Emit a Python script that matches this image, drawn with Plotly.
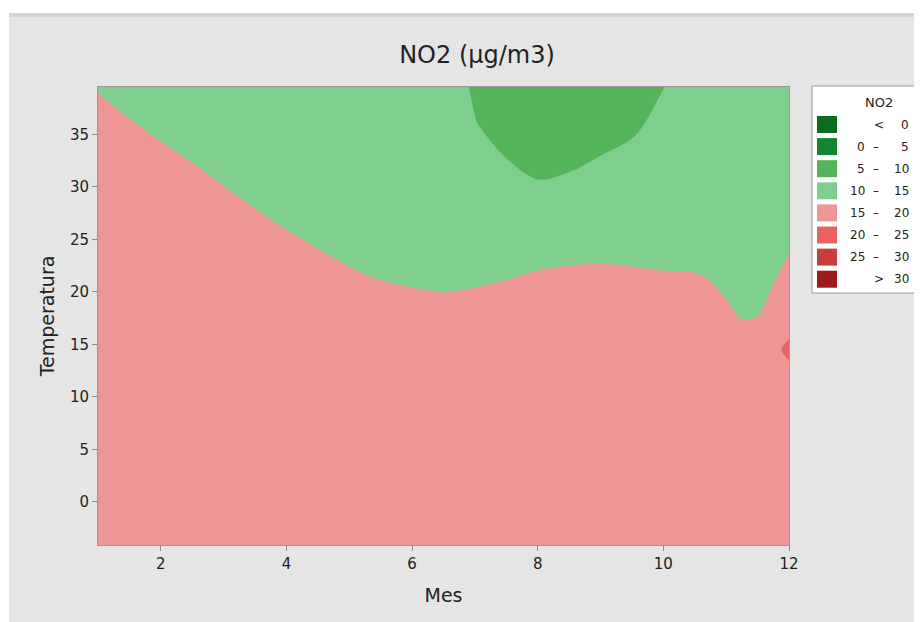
import plotly.graph_objects as go

# ---------------- data ----------------
MES = [1, 1.5, 2, 2.5, 3, 3.5, 4, 4.5, 5, 5.5, 6, 6.5, 7, 7.5, 8, 8.5, 9, 9.5, 10,
       10.5, 10.75, 11, 11.25, 11.5, 11.75, 12]
TEMPERATURA = [-4.5, 5, 12.5, 14.5, 16.5, 20, 25, 30, 33, 36, 39.5]

# NO2 values, one list per month column (bottom -> top along TEMPERATURA)
NO2_COLS = [
    [19.29, 18.39, 17.64, 17.44, 17.24, 16.89, 16.39, 15.89, 15.59, 15.29, 14.94],  # 1
    [19.05, 18.15, 17.40, 17.20, 17.00, 16.65, 16.15, 15.65, 15.35, 15.05, 14.70],  # 1.5
    [18.83, 17.93, 17.18, 16.98, 16.78, 16.43, 15.93, 15.43, 15.13, 14.83, 14.48],  # 2
    [18.63, 17.73, 16.98, 16.78, 16.58, 16.23, 15.73, 15.23, 14.93, 14.63, 14.28],  # 2.5
    [18.41, 17.51, 16.76, 16.56, 16.36, 16.01, 15.51, 15.01, 14.71, 14.41, 14.06],  # 3
    [18.19, 17.29, 16.54, 16.34, 16.14, 15.79, 15.29, 14.79, 14.49, 14.19, 13.84],  # 3.5
    [17.99, 17.09, 16.34, 16.14, 15.94, 15.59, 15.09, 14.59, 14.29, 13.99, 13.64],  # 4
    [17.81, 16.91, 16.16, 15.96, 15.76, 15.41, 14.91, 14.41, 14.11, 13.81, 13.46],  # 4.5
    [17.64, 16.74, 15.99, 15.79, 15.59, 15.24, 14.74, 14.24, 13.94, 13.64, 13.29],  # 5
    [17.51, 16.61, 15.86, 15.66, 15.46, 15.11, 14.61, 14.11, 13.81, 13.51, 13.16],  # 5.5
    [17.44, 16.54, 15.79, 15.59, 15.39, 15.04, 14.54, 14.04, 13.74, 13.44, 13.09],  # 6
    [17.39, 16.49, 15.74, 15.54, 15.34, 14.99, 14.49, 13.99, 13.69, 13.39, 13.04],  # 6.5
    [17.44, 16.54, 15.79, 15.59, 15.39, 15.04, 14.54, 12.65, 11.51, 10.20, 9.30],   # 7
    [17.51, 16.61, 15.86, 15.66, 15.46, 15.11, 14.61, 11.62, 9.82, 8.02, 5.93],     # 7.5
    [17.60, 16.70, 15.95, 15.75, 15.55, 15.20, 14.70, 10.58, 8.09, 6.50, 6.20],     # 8
    [17.65, 16.75, 16.00, 15.80, 15.60, 15.25, 14.75, 11.04, 8.81, 6.59, 6.20],     # 8.5
    [17.67, 16.77, 16.02, 15.82, 15.62, 15.27, 14.77, 11.79, 9.98, 8.18, 6.08],     # 9
    [17.64, 16.74, 15.99, 15.79, 15.59, 15.24, 14.74, 12.27, 10.79, 9.31, 7.58],    # 9.5
    [17.60, 16.70, 15.95, 15.75, 15.55, 15.20, 14.70, 13.05, 12.05, 11.06, 9.90],   # 10
    [17.58, 16.68, 15.93, 15.73, 15.53, 15.18, 14.68, 14.18, 13.88, 13.58, 13.23],  # 10.5
    [17.50, 16.60, 15.85, 15.65, 15.45, 15.10, 14.60, 14.10, 13.80, 13.50, 13.15],  # 10.75
    [17.33, 16.43, 15.68, 15.48, 15.28, 14.93, 14.43, 13.93, 13.63, 13.33, 12.98],  # 11
    [17.14, 16.24, 15.49, 15.29, 15.09, 14.74, 14.24, 13.74, 13.44, 13.14, 12.79],  # 11.25
    [17.17, 16.27, 15.52, 15.32, 15.12, 14.77, 14.27, 13.77, 13.47, 13.17, 12.82],  # 11.5
    [17.47, 16.57, 15.82, 15.62, 15.42, 15.07, 14.57, 14.07, 13.77, 13.47, 13.12],  # 11.75
    [17.77, 16.87, 16.12, 24.00, 15.72, 15.37, 14.87, 14.37, 14.07, 13.77, 13.42],  # 12
]

LEVEL_START, LEVEL_END, LEVEL_STEP = 0, 30, 5
BAND_COLORS = ["#0b6b1f", "#11862f", "#55b35a", "#80ce8e",
               "#ee9595", "#e86262", "#cb3d3d", "#9d1b1b"]
LEG_LO = ["", "0", "5", "10", "15", "20", "25", ""]
LEG_MID = ["<", "\u2013", "\u2013", "\u2013", "\u2013", "\u2013", "\u2013", ">"]
LEG_HI = ["0", "5", "10", "15", "20", "25", "30", "30"]

X_TICKS = [2, 4, 6, 8, 10, 12]
Y_TICKS = [0, 5, 10, 15, 20, 25, 30, 35]

# ---------------- figure ----------------
FONT = "DejaVu Sans"
OFF = 8                      # page body margin of the html page
PAGE_W, PAGE_H = 922, 622
W, H = PAGE_W - OFF, PAGE_H - OFF
L, R, T, B = 98, 789, 87, 545   # plot area in page pixels

def fx(p):
    return (p - L) / (R - L)

def fy(p):
    return (B - p) / (B - T)

n = len(BAND_COLORS)
colorscale = [[i / (n - 1), c] for i, c in enumerate(BAND_COLORS)]

fig = go.Figure()
fig.add_trace(go.Contour(
    x=MES, y=TEMPERATURA, z=NO2_COLS, transpose=True,
    contours=dict(start=LEVEL_START, end=LEVEL_END, size=LEVEL_STEP,
                  coloring="fill", showlines=False),
    colorscale=colorscale, showscale=False,
    line=dict(width=0, smoothing=1.0),
    hoverinfo="skip",
))

shapes = []
annotations = []
# white outer strips (top and left) of the page
shapes.append(dict(type="rect", xref="paper", yref="paper",
                   x0=fx(-20), x1=fx(PAGE_W + 20), y0=fy(13), y1=fy(-20),
                   fillcolor="white", line=dict(width=0), layer="below"))
shapes.append(dict(type="rect", xref="paper", yref="paper",
                   x0=fx(-20), x1=fx(9), y0=fy(PAGE_H + 20), y1=fy(-20),
                   fillcolor="white", line=dict(width=0), layer="below"))
# subtle shading at top edge of grey panel
shapes.append(dict(type="rect", xref="paper", yref="paper",
                   x0=fx(9), x1=fx(PAGE_W + 20), y0=fy(17), y1=fy(13),
                   fillcolor="#d4d4d4", line=dict(width=0), layer="below"))

# legend box
shapes.append(dict(type="rect", xref="paper", yref="paper",
                   x0=fx(812), x1=fx(918), y0=fy(293), y1=fy(86),
                   fillcolor="white", line=dict(color="#9a9a9a", width=1)))
annotations.append(dict(text="NO2", xref="paper", yref="paper",
                        x=fx(879), y=fy(102), xanchor="center", yanchor="middle",
                        showarrow=False,
                        font=dict(family=FONT, size=13, color="#222")))
for k in range(n):
    cy = 124.5 + 22.1 * k
    shapes.append(dict(type="rect", xref="paper", yref="paper",
                       x0=fx(817), x1=fx(837), y0=fy(cy + 8.5), y1=fy(cy - 8.5),
                       fillcolor=BAND_COLORS[k], line=dict(width=0)))
    if LEG_LO[k]:
        annotations.append(dict(text=LEG_LO[k], xref="paper", yref="paper",
                                x=fx(867), y=fy(cy), xanchor="right", yanchor="middle",
                                showarrow=False,
                                font=dict(family=FONT, size=12, color="#222")))
        midx = 876
    else:
        midx = 879
    annotations.append(dict(text=LEG_MID[k], xref="paper", yref="paper",
                            x=fx(midx), y=fy(cy), xanchor="center", yanchor="middle",
                            showarrow=False,
                            font=dict(family=FONT, size=12, color="#222")))
    annotations.append(dict(text=LEG_HI[k], xref="paper", yref="paper",
                            x=fx(911), y=fy(cy), xanchor="right", yanchor="middle",
                            showarrow=False,
                            font=dict(family=FONT, size=12, color="#222")))

fig.update_layout(
    width=W, height=H, autosize=False,
    margin=dict(l=L - OFF, r=PAGE_W - R, t=T - OFF, b=PAGE_H - B, pad=0),
    paper_bgcolor="#e5e5e5", plot_bgcolor="#ee9595",
    title=dict(text="NO2 (\u00b5g/m3)", xref="container", yref="container",
               x=(477 - OFF) / W, y=1 - (55 - OFF) / H,
               xanchor="center", yanchor="middle",
               font=dict(family=FONT, size=24, color="#222")),
    xaxis=dict(range=[1, 12], tickvals=X_TICKS, ticks="outside", ticklen=5,
               tickcolor="#8a8a8a", showline=True, linecolor="#9a9a9a", linewidth=1,
               mirror=True, showgrid=False, zeroline=False,
               tickfont=dict(family=FONT, size=15, color="#222"),
               title=dict(text="Mes", standoff=16,
                          font=dict(family=FONT, size=19, color="#222"))),
    yaxis=dict(range=[-4.1, 39.5], tickvals=Y_TICKS, ticks="outside", ticklen=5,
               tickcolor="#8a8a8a", showline=True, linecolor="#9a9a9a", linewidth=1,
               mirror=True, showgrid=False, zeroline=False,
               tickfont=dict(family=FONT, size=15, color="#222"),
               title=dict(text="Temperatura", standoff=10,
                          font=dict(family=FONT, size=19, color="#222"))),
    shapes=shapes, annotations=annotations, showlegend=False,
)

fig.write_html("out.html")
